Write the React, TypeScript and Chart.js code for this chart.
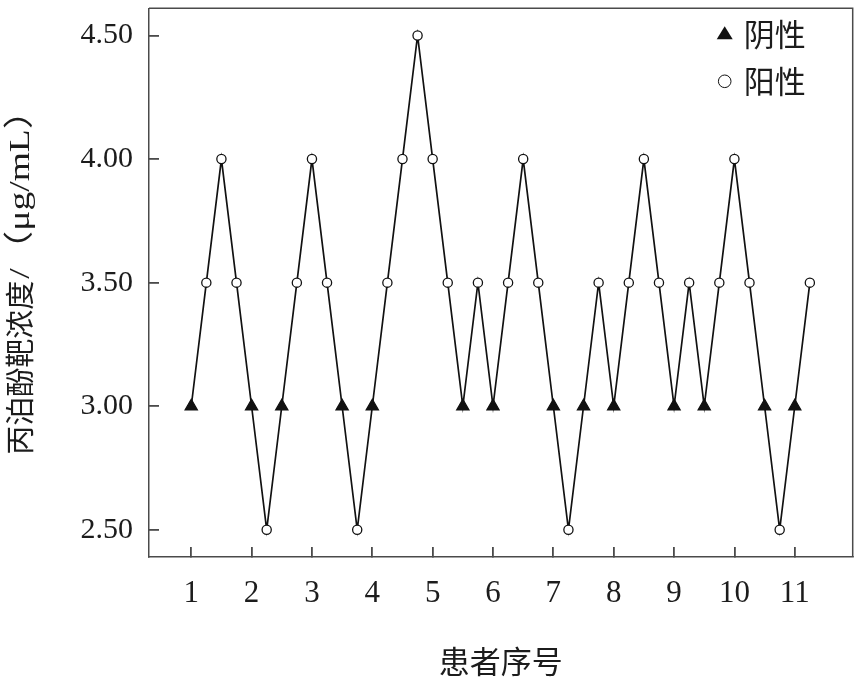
import { useEffect, useRef } from "react"
import { Chart, registerables } from "chart.js"

Chart.register(...registerables)

const patientPos = [
  1, 1.25, 1.5, 1.75, 2, 2.25, 2.5, 2.75, 3, 3.25, 3.5, 3.75, 4, 4.25, 4.5, 4.75, 5, 5.25, 5.5, 5.75, 6,
  6.25, 6.5, 6.75, 7, 7.25, 7.5, 7.75, 8, 8.25, 8.5, 8.75, 9, 9.25, 9.5, 9.75, 10, 10.25, 10.5, 10.75, 11, 11.25,
]

// propofol target concentration (μg/mL)
const concentration = [
  3.0, 3.5, 4.0, 3.5, 3.0, 2.5, 3.0, 3.5, 4.0, 3.5, 3.0, 2.5, 3.0, 3.5, 4.0, 4.5, 4.0, 3.5, 3.0, 3.5, 3.0,
  3.5, 4.0, 3.5, 3.0, 2.5, 3.0, 3.5, 3.0, 3.5, 4.0, 3.5, 3.0, 3.5, 3.0, 3.5, 4.0, 3.5, 3.0, 2.5, 3.0, 3.5,
]

// "neg" = 阴性, "pos" = 阳性
const resultGroup = [
  "neg", "pos", "pos", "pos", "neg", "pos", "neg", "pos", "pos", "pos", "neg", "pos", "neg", "pos", "pos",
  "pos", "pos", "pos", "neg", "pos", "neg", "pos", "pos", "pos", "neg", "pos", "neg", "pos", "neg", "pos",
  "pos", "pos", "neg", "pos", "neg", "pos", "pos", "pos", "neg", "pos", "neg", "pos",
]

const xTickValues = [1, 2, 3, 4, 5, 6, 7, 8, 9, 10, 11]
const yTickValues = [2.5, 3.0, 3.5, 4.0, 4.5]
const legendLabels = ["阴性", "阳性"]
const yTitleParts = ["丙泊酚靶浓度", "/（μg/mL）"]

const SERIF = "'Liberation Serif', 'Noto Sans CJK SC', serif"
const CJK = "'Noto Sans CJK SC', 'Liberation Serif', sans-serif"
const TEXT_COLOR = "#1c1c1c"
const AXIS_COLOR = "#4a4a4a"
const LINE_COLOR = "#111111"

// draws the top and right sides of the plot box
const framePlugin = {
  id: "frame",
  afterDraw(chart: Chart) {
    const { ctx, chartArea: a } = chart
    ctx.save()
    ctx.strokeStyle = AXIS_COLOR
    ctx.lineWidth = 1.5
    ctx.beginPath()
    ctx.moveTo(a.left, a.top)
    ctx.lineTo(a.right, a.top)
    ctx.lineTo(a.right, a.bottom)
    ctx.stroke()
    ctx.restore()
  },
}

// rotated y title: CJK part and a wider serif unit part
const yTitlePlugin = {
  id: "yTitle",
  afterDraw(chart: Chart) {
    const { ctx, chartArea: a } = chart
    const start = (a.top + a.bottom) / 2 + 172
    ctx.save()
    ctx.translate(20, start)
    ctx.rotate(-Math.PI / 2)
    ctx.fillStyle = TEXT_COLOR
    ctx.textBaseline = "middle"
    ctx.textAlign = "left"
    ctx.font = `29px ${CJK}`
    ctx.fillText(yTitleParts[0], 0, 0)
    const w0 = ctx.measureText(yTitleParts[0]).width
    ctx.font = `30px ${SERIF}`
    const w1 = ctx.measureText(yTitleParts[1]).width
    const target = 363 - w0 - 2
    ctx.translate(w0 + 2, 0)
    ctx.scale(target / w1, 1)
    ctx.fillText(yTitleParts[1], 0, 1)
    ctx.restore()
  },
}

// legend inside the top right corner of the plot
const insideLegend = {
  id: "insideLegend",
  afterDraw(chart: Chart) {
    const { ctx, chartArea: a } = chart
    const x = a.right - 128
    ctx.save()
    ctx.font = `31px ${CJK}`
    ctx.textBaseline = "middle"
    legendLabels.forEach((label, i) => {
      const y = a.top + 25 + i * 47
      ctx.beginPath()
      if (i === 0) {
        ctx.moveTo(x, y - 7)
        ctx.lineTo(x + 8, y + 6)
        ctx.lineTo(x - 8, y + 6)
        ctx.closePath()
        ctx.fillStyle = LINE_COLOR
        ctx.fill()
      } else {
        ctx.arc(x, y + 1, 6.3, 0, Math.PI * 2)
        ctx.strokeStyle = LINE_COLOR
        ctx.lineWidth = 1
        ctx.stroke()
      }
      ctx.fillStyle = TEXT_COLOR
      ctx.fillText(label, x + 19, y + 1)
    })
    ctx.restore()
  },
}

export default function App() {
  const canvasRef = useRef<HTMLCanvasElement>(null)
  const chartRef = useRef<Chart | null>(null)

  useEffect(() => {
    document.body.style.margin = "0"
    if (!canvasRef.current) return
    if (chartRef.current) chartRef.current.destroy()

    const isNeg = (i: number) => resultGroup[i] === "neg"

    chartRef.current = new Chart(canvasRef.current, {
      type: "line",
      data: {
        datasets: [
          {
            label: "丙泊酚靶浓度",
            data: patientPos.map((x, i) => ({ x, y: concentration[i] })),
            borderColor: LINE_COLOR,
            borderWidth: 1.7,
            tension: 0,
            pointStyle: (c: any) => (isNeg(c.dataIndex) ? "triangle" : "circle"),
            pointRadius: (c: any) => (isNeg(c.dataIndex) ? 7 : 4.6),
            pointBackgroundColor: (c: any) => (isNeg(c.dataIndex) ? LINE_COLOR : "#ffffff"),
            pointBorderColor: LINE_COLOR,
            pointBorderWidth: 1.3,
          },
        ],
      },
      options: {
        responsive: true,
        maintainAspectRatio: false,
        animation: false,
        layout: { padding: { top: 6, right: 7, left: 0, bottom: 0 } },
        scales: {
          x: {
            type: "linear",
            min: 0.3,
            max: 11.96,
            afterBuildTicks: (scale) => {
              scale.ticks = xTickValues.map((value) => ({ value }))
            },
            afterFit: (scale: any) => {
              scale.height = 123
              scale.paddingLeft = 0
              scale.paddingRight = 0
            },
            ticks: {
              autoSkip: false,
              maxRotation: 0,
              padding: 28,
              color: TEXT_COLOR,
              font: { family: SERIF, size: 31 },
              callback: (value) => Number(value).toFixed(0),
            },
            grid: { drawOnChartArea: false, drawTicks: true, tickLength: -10, color: AXIS_COLOR, lineWidth: 1.8 },
            border: { color: AXIS_COLOR, width: 1.5 },
            title: {
              display: true,
              text: "患者序号",
              color: TEXT_COLOR,
              font: { family: CJK, size: 31 },
              padding: 0,
            },
          },
          y: {
            type: "linear",
            min: 2.39,
            max: 4.61,
            afterBuildTicks: (scale) => {
              scale.ticks = yTickValues.map((value) => ({ value }))
            },
            afterFit: (scale: any) => {
              scale.width = 149
              scale.paddingTop = 0
              scale.paddingBottom = 0
            },
            ticks: {
              autoSkip: false,
              padding: 26,
              color: TEXT_COLOR,
              font: { family: SERIF, size: 30 },
              callback: (value) => Number(value).toFixed(2),
            },
            grid: { drawOnChartArea: false, drawTicks: true, tickLength: -10, color: AXIS_COLOR, lineWidth: 1.8 },
            border: { color: AXIS_COLOR, width: 1.5 },
            title: { display: false },
          },
        },
        plugins: {
          legend: { display: false },
          tooltip: { enabled: false },
        },
      },
      plugins: [framePlugin, yTitlePlugin, insideLegend],
    })

    return () => {
      if (chartRef.current) {
        chartRef.current.destroy()
        chartRef.current = null
      }
    }
  }, [])

  return (
    <div style={{ width: 861, height: 680, position: "relative" }}>
      <canvas ref={canvasRef}></canvas>
    </div>
  )
}
